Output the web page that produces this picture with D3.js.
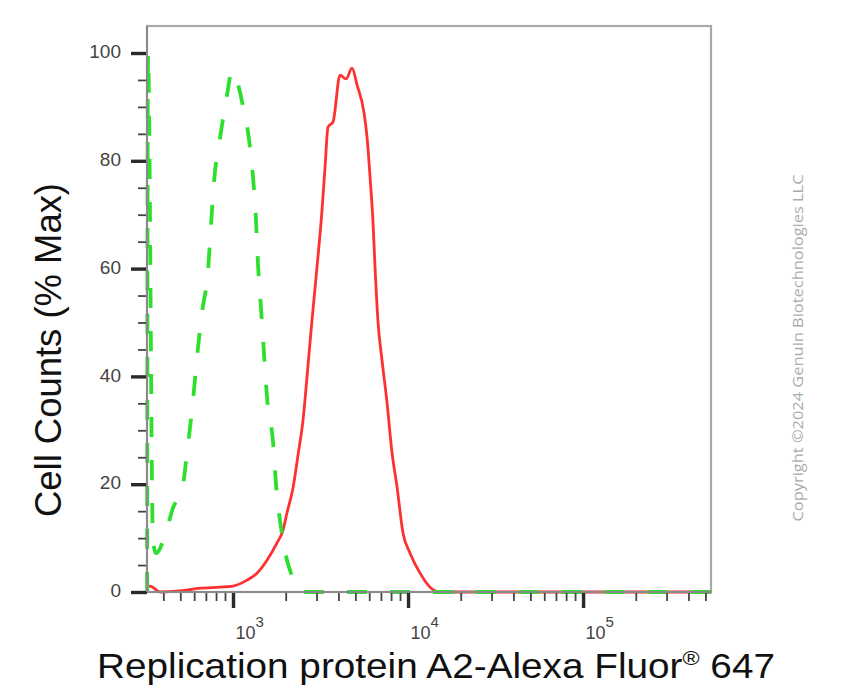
<!DOCTYPE html>
<html>
<head>
<meta charset="utf-8">
<script src="https://cdn.jsdelivr.net/npm/d3@7"></script>
<style>
  html, body { margin: 0; padding: 0; background: #fff; }
  svg { display: block; }
</style>
</head>
<body>
<svg id="chart" width="841" height="700"></svg>
<script>
// ---- data ----
const isotypeX = [323, 327, 349, 363, 414, 454, 511, 553, 591, 623, 665, 720, 749, 779, 843, 924, 987, 1082, 1156, 1218, 1301, 1353, 1390, 1445, 1503, 1564, 1693, 1761, 1881, 2035, 2145, 2352, 2579, 540000];
const isotypeY = [0, 100, 9.6, 7.2, 11.1, 15.6, 18.9, 27.3, 35.6, 43.6, 51.8, 59.7, 68.1, 76.1, 84.2, 92.2, 96.7, 93.5, 89.1, 85.3, 77.0, 69.0, 60.7, 52.7, 44.3, 36.2, 27.8, 19.9, 11.9, 5.9, 3.5, 0.4, 0, 0];

const sampleX = [323, 336, 383, 498, 648, 843, 1000, 1202, 1371, 1564, 1784, 1931, 2035, 2202, 2352, 2512, 2683, 2828, 3020, 3226, 3355, 3491, 3727, 4087, 4424, 4786, 5112, 5605, 5831, 6066, 6310, 6477, 6740, 7101, 7586, 8102, 8652, 9363, 10266, 11712, 13361, 15238, 540000];
const sampleY = [0.9, 1.1, 0, 0.2, 0.7, 0.9, 1.1, 2.2, 3.5, 5.9, 9.1, 11.5, 14.7, 19.3, 25.4, 31.9, 42.1, 50.5, 60.3, 70.9, 78.8, 86.3, 87.2, 95.9, 95.2, 97.2, 94.1, 88.9, 84.4, 77.0, 68.5, 60.3, 50.0, 43.0, 35.1, 25.8, 19.5, 10.9, 7.2, 3.5, 0.9, 0, 0];

const yMajorTicks = [0, 20, 40, 60, 80, 100];
const yMinorTicks = [5, 10, 15, 25, 30, 35, 45, 50, 55, 65, 70, 75, 85, 90, 95];
const xMajorTicks = [1000, 10000, 100000];
const xMajorExponents = ["3", "4", "5"];
const xMinorTicks = [400, 500, 600, 700, 800, 900,
  2000, 3000, 4000, 5000, 6000, 7000, 8000, 9000,
  20000, 30000, 40000, 50000, 60000, 70000, 80000, 90000,
  200000, 300000, 400000, 500000];

const xTitle = "Replication protein A2-Alexa Fluor";
const xTitleSup = "®";
const xTitleEnd = " 647";
const yTitle = "Cell Counts (% Max)";
const copyright = "Copyright ©2024 Genuin Biotechnologies LLC";

// ---- layout ----
const L = 147, R = 711, T = 26, B = 592;
const svg = d3.select("#chart");

const x = d3.scaleLog().domain([322.6, 538000]).range([L, R]);
const y = d3.scaleLinear().domain([0, 100]).range([B, 53]);

// border (top/right)
svg.append("rect")
  .attr("x", L).attr("y", T).attr("width", R - L).attr("height", B - T)
  .attr("fill", "none").attr("stroke", "#a8a8a8").attr("stroke-width", 2.2);

// curves
const line = d3.line().x(d => x(d[0])).y(d => y(d[1])).curve(d3.curveMonotoneX);

svg.append("path")
  .datum(sampleX.map((v, i) => [v, sampleY[i]]))
  .attr("d", line)
  .attr("fill", "none").attr("stroke", "#ff3030").attr("stroke-width", 2.8)
  .attr("stroke-linejoin", "round");

svg.append("path")
  .datum(isotypeX.map((v, i) => [v, isotypeY[i]]))
  .attr("d", line)
  .attr("fill", "none").attr("stroke", "#2ee02e").attr("stroke-width", 3.8)
  .attr("stroke-dasharray", "20,23")
  .attr("stroke-linecap", "butt");

// axes
function styleAxis(g, color, width) {
  g.select(".domain").remove();
  g.selectAll(".tick line").attr("stroke", color).attr("stroke-width", width);
}

const yMinor = svg.append("g").attr("transform", `translate(${L},0)`)
  .call(d3.axisLeft(y).tickValues(yMinorTicks).tickSize(9).tickFormat(""));
styleAxis(yMinor, "#444", 1.8);

const yMajor = svg.append("g").attr("transform", `translate(${L},0)`)
  .call(d3.axisLeft(y).tickValues(yMajorTicks).tickSize(16).tickPadding(10).tickFormat(d3.format("d")));
styleAxis(yMajor, "#2a2a2a", 3.4);
yMajor.selectAll(".tick text")
  .attr("font-family", "Liberation Sans, Arial, sans-serif")
  .attr("font-size", 19).attr("fill", "#444")
  .attr("dy", "0.25em");

const xMinor = svg.append("g").attr("transform", `translate(0,${B})`)
  .call(d3.axisBottom(x).tickValues(xMinorTicks).tickSize(9).tickFormat(""));
styleAxis(xMinor, "#444", 1.8);

const xMajor = svg.append("g").attr("transform", `translate(0,${B})`)
  .call(d3.axisBottom(x).tickValues(xMajorTicks).tickSize(16).tickFormat(""));
styleAxis(xMajor, "#2a2a2a", 3.4);
xMajor.selectAll(".tick").each(function(d, i) {
  const t = d3.select(this).append("text")
    .attr("x", 2).attr("y", 47)
    .attr("text-anchor", "start")
    .attr("font-family", "Liberation Sans, Arial, sans-serif")
    .attr("font-size", 18).attr("fill", "#444");
  t.append("tspan").text("10");
  t.append("tspan").attr("dy", -12).attr("font-size", 15).text(xMajorExponents[i]);
});

// axis lines
svg.append("line").attr("x1", L).attr("x2", L).attr("y1", T).attr("y2", B)
  .attr("stroke", "#8a8a8a").attr("stroke-width", 2);
svg.append("line").attr("x1", L).attr("x2", R).attr("y1", B).attr("y2", B)
  .attr("stroke", "#8a8a8a").attr("stroke-width", 2);

// titles
const xt = svg.append("text")
  .attr("x", 97).attr("y", 678)
  .attr("font-family", "Liberation Sans, Arial, sans-serif")
  .attr("font-size", 35).attr("fill", "#111")
  .attr("textLength", 678).attr("lengthAdjust", "spacingAndGlyphs");
xt.append("tspan").text(xTitle);
xt.append("tspan").attr("dy", -13).attr("font-size", 21).text(xTitleSup);
xt.append("tspan").attr("dy", 13).text(xTitleEnd);

svg.append("text")
  .attr("transform", "translate(61,350) rotate(-90)")
  .attr("text-anchor", "middle")
  .attr("font-family", "Liberation Sans, Arial, sans-serif")
  .attr("font-size", 36).attr("fill", "#111")
  .attr("textLength", 334).attr("lengthAdjust", "spacingAndGlyphs")
  .text(yTitle);

svg.append("text")
  .attr("transform", "translate(803,348) rotate(-90)")
  .attr("text-anchor", "middle")
  .attr("font-family", "Open Sans, Noto Sans, sans-serif")
  .attr("font-size", 15).attr("fill", "#ababab")
  .attr("textLength", 347).attr("lengthAdjust", "spacingAndGlyphs")
  .text(copyright);
</script>
</body>
</html>
